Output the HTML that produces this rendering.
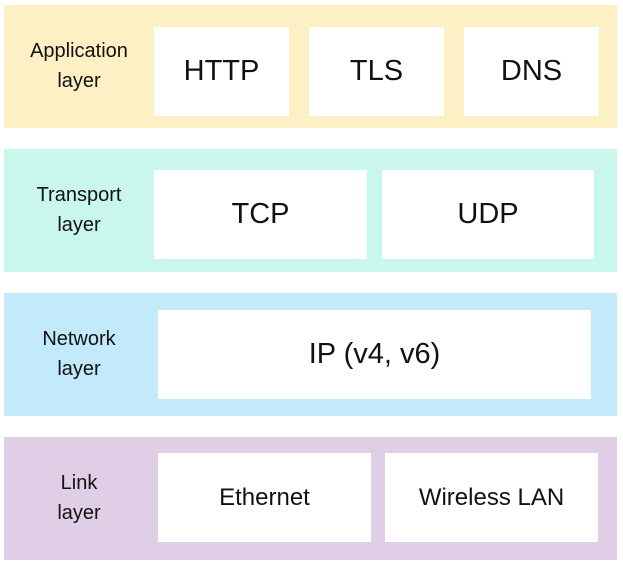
<!DOCTYPE html>
<html><head><style>
body{margin:0;width:623px;height:562px;background:#fff;position:relative;font-family:"Liberation Sans",sans-serif;color:#111;overflow:hidden}
.band{position:absolute;left:4px;width:613px;height:123px}
.lab{position:absolute;left:4px;width:150px;text-align:center;font-size:20px;line-height:30px}
.box{position:absolute;background:#fff;display:flex;align-items:center;justify-content:center;font-size:29px}
.sm{font-size:24px}
</style></head><body>
<div class="band" style="top:5px;background:#fef0c5"></div>
<div class="band" style="top:149px;background:#c9f7ec"></div>
<div class="band" style="top:293px;background:#c3eafb"></div>
<div class="band" style="top:437px;background:#e0cee6"></div>

<div class="lab" style="top:36px">Application<br>layer</div>
<div class="lab" style="top:180px">Transport<br>layer</div>
<div class="lab" style="top:324px">Network<br>layer</div>
<div class="lab" style="top:468px">Link<br>layer</div>

<div class="box" style="left:154px;top:27px;width:135px;height:89px">HTTP</div>
<div class="box" style="left:309px;top:27px;width:135px;height:89px">TLS</div>
<div class="box" style="left:464px;top:27px;width:135px;height:89px">DNS</div>

<div class="box" style="left:154px;top:170px;width:213px;height:89px">TCP</div>
<div class="box" style="left:382px;top:170px;width:212px;height:89px">UDP</div>

<div class="box" style="left:158px;top:310px;width:433px;height:89px">IP (v4, v6)</div>

<div class="box sm" style="left:158px;top:453px;width:213px;height:89px">Ethernet</div>
<div class="box sm" style="left:385px;top:453px;width:213px;height:89px">Wireless LAN</div>
</body></html>
